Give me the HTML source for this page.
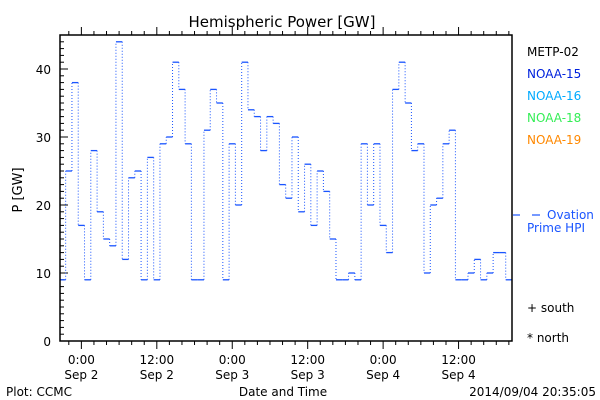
<!DOCTYPE html>
<html><head><meta charset="utf-8"><style>
body{margin:0;background:#fff}
svg{display:block;font-family:"DejaVu Sans","Liberation Sans",sans-serif}
</style></head><body>
<svg id="chart" width="600" height="400" viewBox="0 0 600 400" xmlns="http://www.w3.org/2000/svg">
<rect width="600" height="400" fill="#fff"/>
<text x="282" y="27" font-size="15" text-anchor="middle">Hemispheric Power [GW]</text>
<text transform="translate(22,190) rotate(-90)" font-size="13" text-anchor="middle">P [GW]</text>
<g id="axes"></g>
<g id="series"></g>
<rect x="60" y="35" width="452" height="306" fill="none" stroke="#000" stroke-width="1.5"/>
<text x="283" y="396" font-size="12" text-anchor="middle">Date and Time</text>
<text x="6" y="396" font-size="12">Plot: CCMC</text>
<text x="596" y="396" font-size="12" text-anchor="end">2014/09/04 20:35:05</text>
<g font-size="12">
<text x="527" y="56" fill="#000">METP-02</text>
<text x="527" y="78" fill="#0022dd">NOAA-15</text>
<text x="527" y="100" fill="#00aaff">NOAA-16</text>
<text x="527" y="122" fill="#33ee55">NOAA-18</text>
<text x="527" y="144" fill="#ff8800">NOAA-19</text>
<line x1="513" y1="215" x2="520" y2="215" stroke="#1a55ff" stroke-width="1.2"/>
<line x1="532" y1="215" x2="540" y2="215" stroke="#1a55ff" stroke-width="1.2"/>
<text x="547" y="219" fill="#1a55ff">Ovation</text>
<text x="527" y="232" fill="#1a55ff">Prime HPI</text>
<text x="527" y="312" fill="#000">+ south</text>
<text x="527" y="342" fill="#000">* north</text>
</g>
</svg>
<script>
const hourStart = -3;
const powerValues = [9,25,38,17,9,28,19,15,14,44,12,24,25,9,27,9,29,30,41,37,29,9,9,31,37,35,9,29,20,41,34,33,28,33,32,23,21,30,19,26,17,25,22,15,9,9,10,9,29,20,29,17,13,37,41,35,28,29,10,20,21,29,31,9,9,10,12,9,10,13,13,9];
const yTickLabels = [0,10,20,30,40];
const xTickLabels = [["0:00","Sep 2"],["12:00","Sep 2"],["0:00","Sep 3"],["12:00","Sep 3"],["0:00","Sep 4"],["12:00","Sep 4"]];
const xMin=-3.4, xMax=68.5, yMin=0, yMax=45;
const L=60,R=512,T=35,B=341;
const X=h=>L+(h-xMin)/(xMax-xMin)*(R-L);
const Y=v=>B-(v-yMin)/(yMax-yMin)*(B-T);
const NS="http://www.w3.org/2000/svg";
const axes=document.getElementById('axes'), ser=document.getElementById('series');
function mk(tag,at,parent){const e=document.createElementNS(NS,tag);for(const k in at)e.setAttribute(k,at[k]);parent.appendChild(e);return e;}
// y ticks
for(let v=0;v<=45;v++){
  const major=v%10===0;
  const t=mk('line',{x1:L,x2:L+(major?8:4),y1:Y(v),y2:Y(v),stroke:'#000'},axes);
  
  
}
yTickLabels.forEach(v=>{
  const t=mk('text',{x:L-9,y:Y(v)+5,'font-size':12,'text-anchor':'end'},axes);
  
  
  t.textContent=v;
});
// x ticks
for(let h=-2;h<=68;h+=2){
  const major=((h%12)+12)%12===0;
  const len=major?8:4;
  const b=mk('line',{x1:X(h),x2:X(h),y1:B,y2:B+len,stroke:'#000'},axes);
  
  
  const t=mk('line',{x1:X(h),x2:X(h),y1:T,y2:T-len,stroke:'#000'},axes);
  
  
}
xTickLabels.forEach((lab,i)=>{
  const x=X(i*12);
  const t=mk('text',{x:x,y:364,'font-size':12,'text-anchor':'middle'},axes);
  
  
  t.textContent=lab[0];
  const d=mk('text',{x:x,y:379,'font-size':12,'text-anchor':'middle'},axes);
  
  
  d.textContent=lab[1];
});
// series: solid horizontals, dotted verticals
const col='#1a55ff';
powerValues.forEach((v,i)=>{
  const h=hourStart+i;
  const x1=X(Math.max(h-0.5,xMin)), x2=X(Math.min(h+0.5,xMax));
  if(x2<=x1)return;
  const s=mk('line',{x1:x1,x2:x2,y1:Y(v),y2:Y(v),stroke:col,'stroke-width':1.3},ser);
  
  
  if(i>0 && h-0.5>xMin){
    const p=powerValues[i-1];
    const d=mk('line',{x1:x1,x2:x1,y1:Y(p),y2:Y(v),stroke:col,'stroke-width':1,'stroke-dasharray':'1,2'},ser);
    
    
  }
});
</script>
</body></html>
